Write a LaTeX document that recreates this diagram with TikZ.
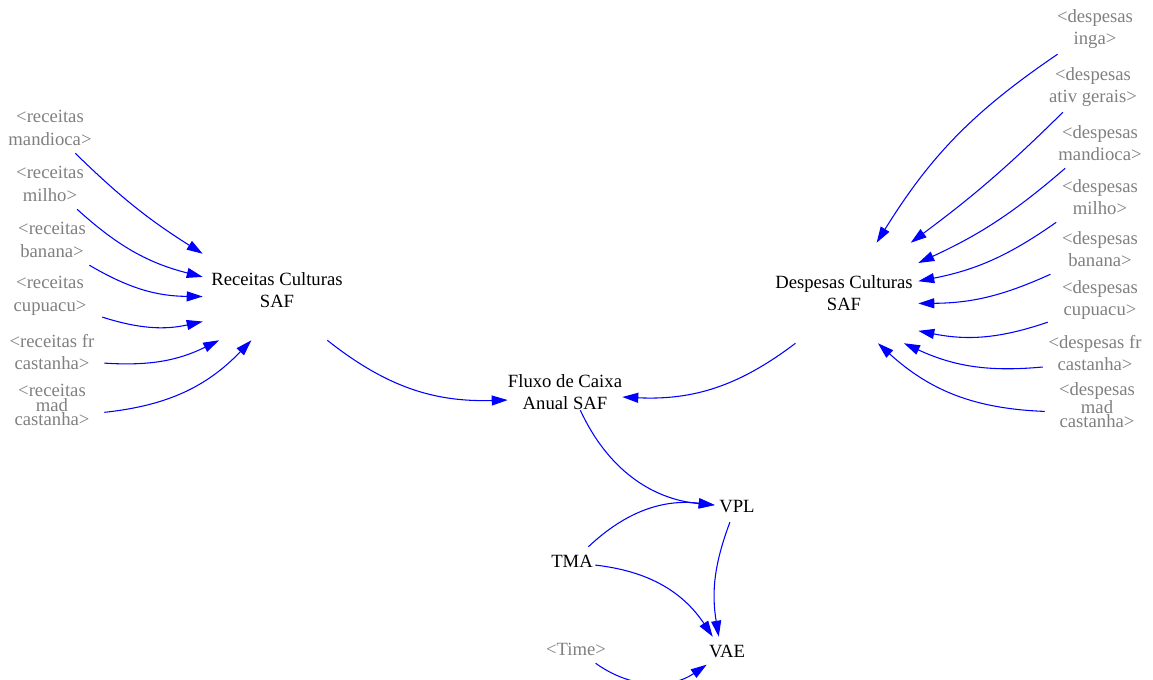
\documentclass[tikz,border=0pt]{standalone}
\usepackage{fontspec}
\setmainfont{Liberation Serif}
\usetikzlibrary{arrows.meta}
\definecolor{ghostgray}{RGB}{128,128,128}
\definecolor{linkblue}{RGB}{0,0,255}
\tikzset{
  var/.style={inner sep=0pt, align=center, font=\fontsize{14}{17}\selectfont},
  ghost/.style={var, text=ghostgray, minimum width=78pt, minimum height=37.5pt},
  squeezed/.style={font=\fontsize{14}{9.4}\selectfont},
  hub/.style={var, minimum width=111pt, minimum height=75pt},
  link/.style={draw=linkblue, line width=0.8pt, -{Triangle[length=12pt,width=7.5pt]}},
}
\begin{document}
\begin{tikzpicture}[x=0.75pt, y=-0.75pt]
  \useasboundingbox (0,0) rectangle (1153,680);
  %
  % RECEITAS
  \node[hub] (rcs) at (277,290) {Receitas Culturas\\SAF};
  \node[ghost] (rm) at (50,128) {<receitas\\mandioca>};
  \node[ghost] (rmi) at (50,184) {<receitas\\milho>};
  \node[ghost] (rb) at (52,240) {<receitas\\banana>};
  \node[ghost] (rc) at (50,296) {<receitas\\cupuacu>};
  \node[ghost] (rf) at (52,352) {<receitas fr\\castanha>};
  \node[ghost, squeezed] (rmc) at (52,405) {<receitas\\mad\\castanha>};
  % DESPESAS
  \node[hub] (dcs) at (844,293) {Despesas Culturas\\SAF};
  \node[ghost] (di) at (1095,29) {<despesas\\inga>};
  \node[ghost] (da) at (1093,87) {<despesas\\ativ gerais>};
  \node[ghost] (dm) at (1100,143) {<despesas\\mandioca>};
  \node[ghost] (dmi) at (1100,197) {<despesas\\milho>};
  \node[ghost] (db) at (1100,249) {<despesas\\banana>};
  \node[ghost] (dc) at (1100,300) {<despesas\\cupuacu>};
  \node[ghost] (df) at (1095,353) {<despesas fr\\castanha>};
  \node[ghost, squeezed] (dmc) at (1097,405) {<despesas\\mad\\castanha>};
  % FLUXO
  \node[var, minimum width=82.5pt, minimum height=27pt] (fcx) at (565,392) {Fluxo de Caixa\\Anual SAF};
  \node[var, minimum width=33pt, minimum height=22.5pt] (vpl) at (737,507) {VPL};
  \node[var, minimum width=34.5pt, minimum height=21pt] (tma) at (572,561) {TMA};
  \node[var, minimum width=30pt, minimum height=21pt] (vae) at (727,651) {VAE};
  \node[ghost, minimum width=45pt, minimum height=21pt] (time) at (576,649) {<Time>};
  %
  \draw[link] (rm.-45) to[bend right=6] (rcs.154);
  \draw[link] (rmi.-43) to[bend right=14] (rcs.170);
  \draw[link] (rb.-34) to[bend right=15] (rcs.185);
  \draw[link] (rc.-22) to[bend right=15] (rcs.203);
  \draw[link] (rf.-12) to[bend right=15] (rcs.221);
  \draw[link] (rmc.-8) to[bend right=20] (rcs.243);
  %
  \draw[link] (di.214) to[bend right=12] (dcs.57);
  \draw[link] (da.220) to[bend left=4] (dcs.37);
  \draw[link] (dm.216) to[bend left=8] (dcs.22);
  \draw[link] (dmi.210) to[bend left=12] (dcs.9);
  \draw[link] (db.207) to[bend left=12] (dcs.-8);
  \draw[link] (dc.203) to[bend left=15] (dcs.-27);
  \draw[link] (df.195) to[bend left=15] (dcs.-40);
  \draw[link] (dmc.187) to[bend left=20] (dcs.-56);
  %
  \draw[link] (rcs.-45) to[bend right=20] (fcx.188);
  \draw[link] (dcs.226) to[bend left=20] (fcx.-5);
  \draw[link] (fcx.-50) to[bend right=30] (vpl.175);
  \draw[link] (tma.41) to[bend left=25] (vpl.175);
  \draw[link] (tma.-10) to[bend left=25] (vae.135);
  \draw[link] (vpl.245) to[bend right=15] (vae.120);
  \draw[link] (time.-36) to[bend right=35] (vae.214);
  %
\end{tikzpicture}
\end{document}
